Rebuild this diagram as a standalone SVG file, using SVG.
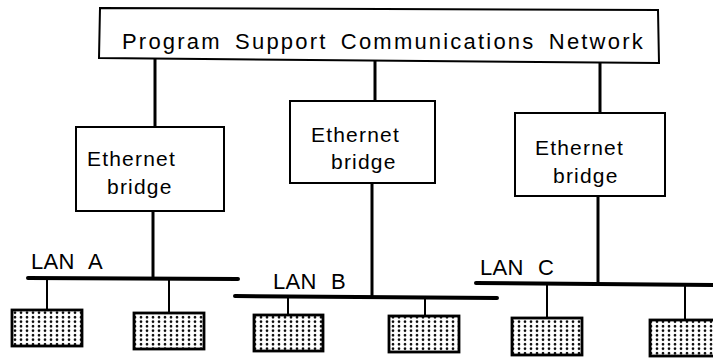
<svg xmlns="http://www.w3.org/2000/svg" width="713" height="358" viewBox="0 0 713 358">
<style>
.box{fill:#fff;stroke:#000;stroke-width:2}
.t{font-family:"Liberation Sans",Arial,sans-serif;fill:#000}
.top{font-size:22px;word-spacing:5px;letter-spacing:2.2px}
.br{font-size:21px;letter-spacing:1.2px}
.lan{font-size:22px;word-spacing:8px;letter-spacing:0.3px}
.trunk{stroke:#000;stroke-width:3;fill:none}
.bus{stroke:#000;stroke-width:4;fill:none;stroke-linecap:round}
.drop{stroke:#000;stroke-width:2;fill:none}
.node{fill:url(#dots);stroke:#000;stroke-width:2.8}
</style>
<defs>
<pattern id="dots" width="6" height="4.5" patternUnits="userSpaceOnUse">
<rect width="6" height="4.5" fill="#fff"/>
<circle cx="3" cy="2.25" r="1.3" fill="#000"/>
</pattern>
</defs>
<g id="connectors">
<line class="trunk" x1="155" y1="58" x2="155" y2="127"/>
<line class="trunk" x1="375" y1="60" x2="375" y2="101"/>
<line class="trunk" x1="600" y1="62" x2="600" y2="113"/>
<line class="trunk" x1="153" y1="211" x2="153" y2="278"/>
<line class="trunk" x1="372" y1="183" x2="372" y2="297"/>
<line class="trunk" x1="598" y1="196" x2="598" y2="284"/>
<line class="bus" x1="28" y1="278" x2="238" y2="279"/>
<line class="bus" x1="235" y1="296" x2="497" y2="298"/>
<line class="bus" x1="476" y1="283" x2="713" y2="285"/>
<line class="drop" x1="47" y1="278" x2="47" y2="310"/>
<line class="drop" x1="169" y1="279" x2="169" y2="313"/>
<line class="drop" x1="288" y1="297" x2="288" y2="315"/>
<line class="drop" x1="425" y1="297" x2="425" y2="315"/>
<line class="drop" x1="547" y1="284" x2="547" y2="318"/>
<line class="drop" x1="685" y1="285" x2="685" y2="320"/>
</g>
<g id="network">
<polygon class="box" points="100,8 658,10 659,63 99,58"/>
<text class="t top" x="122" y="49">Program Support Communications Network</text>
</g>
<g id="bridgeA">
<rect class="box" x="76" y="127" width="148" height="84"/>
<text class="t br" x="87" y="166">Ethernet</text>
<text class="t br" x="107" y="194">bridge</text>
</g>
<g id="bridgeB">
<rect class="box" x="290" y="101" width="145" height="82"/>
<text class="t br" x="311" y="142">Ethernet</text>
<text class="t br" x="331" y="169">bridge</text>
</g>
<g id="bridgeC">
<rect class="box" x="515" y="113" width="150" height="83"/>
<text class="t br" x="535" y="155">Ethernet</text>
<text class="t br" x="553" y="183">bridge</text>
</g>
<g id="lanA"><text class="t lan" x="31" y="269">LAN A</text></g>
<g id="lanB"><text class="t lan" x="273" y="289">LAN B</text></g>
<g id="lanC"><text class="t lan" x="480" y="275">LAN C</text></g>
<g id="nodeA1"><rect class="node" x="12" y="310" width="70" height="36"/></g>
<g id="nodeA2"><rect class="node" x="134" y="313" width="70" height="36"/></g>
<g id="nodeB1"><rect class="node" x="254" y="315" width="69" height="36"/></g>
<g id="nodeB2"><rect class="node" x="389" y="316" width="70" height="36"/></g>
<g id="nodeC1"><rect class="node" x="512" y="318" width="70" height="37"/></g>
<g id="nodeC2"><rect class="node" x="650" y="320" width="70" height="36"/></g>
</svg>
